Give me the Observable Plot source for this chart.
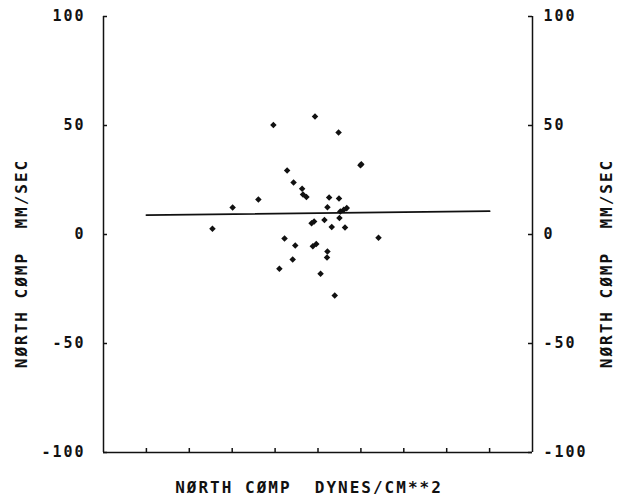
<!DOCTYPE html>
<html>
<head>
<meta charset="utf-8">
<script src="https://cdn.jsdelivr.net/npm/d3@7"></script>
<script src="https://cdn.jsdelivr.net/npm/@observablehq/plot@0.6"></script>
<style>
  html, body { margin: 0; padding: 0; background: #fff; }
</style>
</head>
<body>
<div id="chart"></div>
<script>
// Scatter points: north component of wind stress (unlabelled units) vs. north component of current (mm/sec)
const pointX = [-2.46, -1.99, -1.39, -1.04, -0.07, 0.48, 0.99, 1.01, -0.72, -0.57, -0.37, -0.35, -0.27,
  0.26, 0.49, 0.22, 0.67, 0.52, 0.60, 0.50, 0.15, -0.15, -0.09, 0.32, 0.63, 1.41, -0.78, -0.53,
  -0.12, -0.04, 0.22, 0.21, -0.59, -0.90, 0.06, 0.39];
const pointY = [2.6, 12.4, 16.1, 50.2, 54.1, 46.8, 31.8, 32.2, 29.4, 23.9, 21.0, 18.4, 17.2,
  17.0, 16.5, 12.5, 12.1, 10.6, 11.3, 7.6, 6.6, 5.2, 6.0, 3.4, 3.2, -1.5, -1.8, -5.0,
  -5.4, -4.4, -7.8, -10.6, -11.5, -15.7, -18.0, -28.0];

// Regression line end points
const fitX = [-4, 4];
const fitY = [8.9, 10.7];

// Axes
const xDomain = [-5, 5];
const xTicks = [-4, -3, -2, -1, 0, 1, 2, 3, 4];
const yDomain = [-100, 100];
const yTicks = [-100, -50, 0, 50, 100];
const yLabel = "NØRTH CØMP  MM/SEC";
const xLabel = "NØRTH CØMP  DYNES/CM**2";

const points = pointX.map((x, i) => ({x, y: pointY[i]}));
const fit = fitX.map((x, i) => ({x, y: fitY[i]}));

const W = 617, H = 502;
const mL = 103, mR = 85, mT = 16, mB = 50;
const plotW = W - mL - mR, plotH = H - mT - mB;
const tickLen = 4;

const chart = Plot.plot({
  width: W,
  height: H,
  marginLeft: mL,
  marginRight: mR,
  marginTop: mT,
  marginBottom: mB,
  style: {
    fontFamily: "'DejaVu Sans Mono', monospace",
    fontSize: "15px",
    fontWeight: "bold",
    letterSpacing: "2px",
    color: "#111",
    background: "#fff"
  },
  x: {domain: xDomain, axis: null},
  y: {domain: yDomain, axis: null},
  marks: [
    // frame: left, right, bottom
    Plot.ruleX([xDomain[0], xDomain[1]], {stroke: "#111", strokeWidth: 1.5}),
    Plot.ruleY([yDomain[0]], {stroke: "#111", strokeWidth: 1.5}),
    // inward ticks, left side
    Plot.tickY(yTicks, {y: d => d, insetRight: plotW - tickLen, stroke: "#111", strokeWidth: 1.5}),
    // inward ticks, right side
    Plot.tickY(yTicks, {y: d => d, insetLeft: plotW - tickLen, stroke: "#111", strokeWidth: 1.5}),
    // inward ticks, bottom
    Plot.tickX(xTicks, {x: d => d, insetTop: plotH - tickLen, stroke: "#111", strokeWidth: 1.5}),
    // tick labels
    Plot.axisY({anchor: "left", label: null, ticks: yTicks, tickSize: 0, tickPadding: 18, tickFormat: d => String(d), fontSize: 15}),
    Plot.axisY({anchor: "right", label: null, ticks: yTicks, tickSize: 0, tickPadding: 11, tickFormat: d => String(d), fontSize: 15}),
    // axis titles
    Plot.text([yLabel], {text: d => d, frameAnchor: "left", textAnchor: "middle", rotate: -90, dx: -82, dy: 29, fontSize: 16, fill: "#111"}),
    Plot.text([yLabel], {text: d => d, frameAnchor: "right", textAnchor: "middle", rotate: -90, dx: 74, dy: 29, fontSize: 16, fill: "#111"}),
    Plot.text([xLabel], {text: d => d, frameAnchor: "bottom", textAnchor: "middle", dx: -9, dy: 40, fontSize: 16, fill: "#111"}),
    // regression line
    Plot.line(fit, {x: "x", y: "y", stroke: "#111", strokeWidth: 1.8}),
    // data points
    Plot.dot(points, {x: "x", y: "y", symbol: "square", rotate: 45, r: 2.6, fill: "#111", stroke: "none"})
  ]
});
document.getElementById("chart").appendChild(chart);
</script>
</body>
</html>
